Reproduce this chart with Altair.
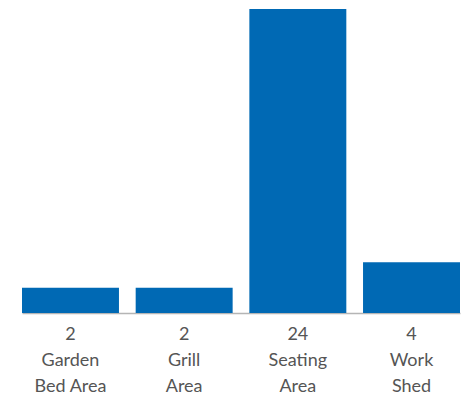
import altair as alt
import pandas as pd

categories = ["Garden Bed Area", "Grill Area", "Seating Area", "Work Shed"]
label_lines = [["Garden", "Bed Area"], ["Grill", "Area"], ["Seating", "Area"], ["Work", "Shed"]]
values = [2, 2, 24, 4]

df = pd.DataFrame({
    "category": categories,
    "value": values,
    "label": ["|".join([str(v)] + l) for v, l in zip(values, label_lines)],
})

chart = alt.Chart(df).mark_bar(color="#0069B4").encode(
    x=alt.X("label:N", sort=None,
            scale=alt.Scale(paddingInner=0.147, paddingOuter=0),
            axis=alt.Axis(title=None, labelAngle=0, ticks=False,
                          labelExpr="split(datum.label, '|')",
                          labelFont="Lato", labelFontSize=18, labelColor="#555555",
                          labelLineHeight=26, labelPadding=12,
                          domainColor="#b5b5b5", domainWidth=1.5)),
    y=alt.Y("value:Q", scale=alt.Scale(domain=[0, 24], nice=False),
            axis=None),
).properties(
    width=438, height=304,
    autosize=alt.AutoSizeParams(type="none"),
    padding={"left": 22, "top": 9, "right": 5, "bottom": 85},
).configure_view(stroke=None)

chart.save("out.html", embed_options={"renderer": "svg", "actions": False})
